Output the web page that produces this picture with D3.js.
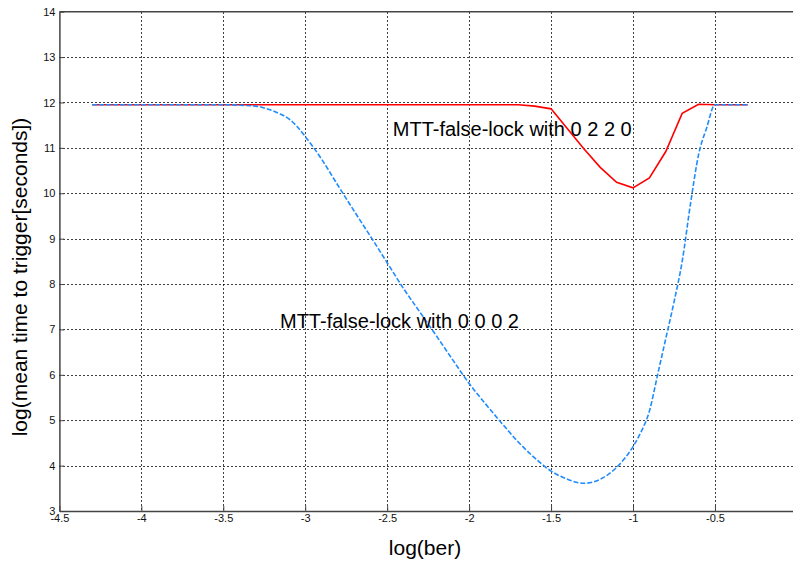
<!DOCTYPE html>
<html>
<head>
<meta charset="utf-8">
<script src="https://cdn.jsdelivr.net/npm/d3@7"></script>
<style>
  html, body { margin: 0; padding: 0; background: #fff; overflow: hidden; }
  svg { display: block; font-family: "Liberation Sans", Arial, sans-serif; }
</style>
</head>
<body>
<svg id="chart" width="793" height="564"></svg>
<script>
// ---- data ----
const xTicks = [-4.5, -4, -3.5, -3, -2.5, -2, -1.5, -1, -0.5];
const yTicks = [3, 4, 5, 6, 7, 8, 9, 10, 11, 12, 13, 14];

const redBer = [-4.3, -4.2, -4.1, -4.0, -3.9, -3.8, -3.7, -3.6, -3.5, -3.4, -3.3, -3.2, -3.1, -3.0,
  -2.9, -2.8, -2.7, -2.6, -2.5, -2.4, -2.3, -2.2, -2.1, -2.0, -1.9, -1.8, -1.7, -1.6, -1.5,
  -1.4, -1.3, -1.2, -1.1, -1.0, -0.9, -0.8, -0.7, -0.6, -0.5, -0.4, -0.3];
const redMtt = [11.95, 11.95, 11.95, 11.95, 11.95, 11.95, 11.95, 11.95, 11.95, 11.95, 11.95, 11.95, 11.95, 11.95,
  11.95, 11.95, 11.95, 11.95, 11.95, 11.95, 11.95, 11.95, 11.95, 11.95, 11.95, 11.95, 11.95, 11.92, 11.86,
  11.42, 10.98, 10.57, 10.24, 10.12, 10.34, 10.92, 11.76, 11.96, 11.95, 11.95, 11.95];

const blueBer = [-4.3, -4.2, -4.1, -4.0, -3.9, -3.8, -3.7, -3.6, -3.5, -3.4, -3.3, -3.25, -3.2, -3.15,
  -3.1, -3.05, -3.0, -2.9, -2.8, -2.7, -2.6, -2.5, -2.4, -2.3, -2.2, -2.1, -2.0, -1.9, -1.8,
  -1.7, -1.6, -1.5, -1.4, -1.3, -1.2, -1.1, -1.0, -0.95, -0.9, -0.85, -0.8, -0.75, -0.7,
  -0.65, -0.6, -0.55, -0.5, -0.4, -0.3];
const blueMtt = [11.95, 11.95, 11.95, 11.95, 11.95, 11.95, 11.95, 11.95, 11.95, 11.94, 11.92, 11.88, 11.82, 11.74,
  11.64, 11.47, 11.25, 10.75, 10.17, 9.6, 9.04, 8.47, 7.9, 7.38, 6.86, 6.33, 5.81, 5.36, 4.93,
  4.52, 4.17, 3.88, 3.7, 3.61, 3.7, 3.96, 4.42, 4.75, 5.2, 6.0, 6.8, 7.6, 8.5,
  9.75, 10.85, 11.45, 11.95, 11.95, 11.95];

const label0220 = "MTT-false-lock with 0 2 2 0";
const label0002 = "MTT-false-lock with 0 0 0 2";
const xLabel = "log(ber)";
const yLabel = "log(mean time to trigger[seconds])";

// ---- layout ----
const svg = d3.select("#chart");
const x = d3.scaleLinear().domain([-4.5, 0]).range([59.4, 796.9]);
const y = d3.scaleLinear().domain([3, 14]).range([511, 11.7]);
const x0 = x.range()[0], x1 = x.range()[1], y0 = y.range()[0], y1 = y.range()[1];

// grid
const grid = svg.append("g").attr("stroke", "#000").attr("stroke-width", 1)
  .attr("stroke-dasharray", "2,2").attr("stroke-opacity", 0.75).attr("shape-rendering", "crispEdges");
grid.selectAll("line.v").data(xTicks.slice(1)).enter().append("line")
  .attr("x1", d => Math.round(x(d)) + 0.5).attr("x2", d => Math.round(x(d)) + 0.5)
  .attr("y1", y1).attr("y2", y0);
grid.selectAll("line.h").data(yTicks.slice(1, -1)).enter().append("line")
  .attr("x1", x0).attr("x2", x1)
  .attr("y1", d => Math.round(y(d)) + 0.5).attr("y2", d => Math.round(y(d)) + 0.5);

// axes
const fmt = d => String(d);
const xAxis = svg.append("g").attr("transform", `translate(0,${y0})`)
  .call(d3.axisBottom(x).tickValues(xTicks).tickFormat(fmt).tickSize(-5).tickSizeOuter(0).tickPadding(3));
const yAxis = svg.append("g").attr("transform", `translate(${x0},0)`)
  .call(d3.axisLeft(y).tickValues(yTicks).tickFormat(fmt).tickSize(-5).tickSizeOuter(0).tickPadding(4));
[xAxis, yAxis].forEach(g => {
  g.selectAll("path.domain").attr("stroke", "#444").attr("stroke-width", 1.5);
  g.selectAll(".tick line").attr("stroke", "#444");
  g.selectAll(".tick text").attr("fill", "#111").attr("font-size", 11)
    .attr("font-family", "'Liberation Sans', Arial, sans-serif");
});
// top border
svg.append("line").attr("x1", x0).attr("x2", x1).attr("y1", y1).attr("y2", y1)
  .attr("stroke", "#444").attr("stroke-width", 1.5);

// lines
const line = d3.line().x(d => x(d[0])).y(d => y(d[1]));
const smooth = d3.line().x(d => x(d[0])).y(d => y(d[1])).curve(d3.curveMonotoneX);
svg.append("path").datum(d3.zip(redBer, redMtt))
  .attr("d", line).attr("fill", "none").attr("stroke", "#ff0000").attr("stroke-width", 1.6);
svg.append("path").datum(d3.zip(blueBer, blueMtt))
  .attr("d", smooth).attr("fill", "none").attr("stroke", "#1e8cff").attr("stroke-width", 1.6)
  .attr("stroke-dasharray", "5,2");

// annotations
svg.append("text").attr("x", x(-2.466)).attr("y", y(11.42)).attr("dy", "0.35em")
  .attr("font-size", 20).attr("fill", "#000").text(label0220);
svg.append("text").attr("x", x(-3.154)).attr("y", y(7.19)).attr("dy", "0.35em")
  .attr("font-size", 20).attr("fill", "#000").text(label0002);

// axis labels
svg.append("text").attr("x", 425).attr("y", 555).attr("text-anchor", "middle")
  .attr("font-size", 21).attr("fill", "#000").text(xLabel);
svg.append("text").attr("transform", "translate(27,277) rotate(-90)").attr("text-anchor", "middle")
  .attr("font-size", 21).attr("fill", "#000").text(yLabel);
</script>
</body>
</html>
